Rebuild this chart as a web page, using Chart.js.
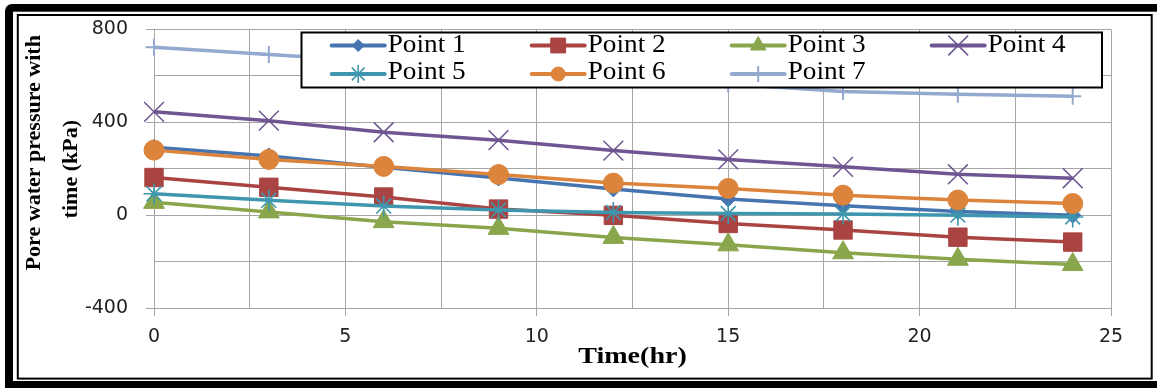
<!DOCTYPE html>
<html>
<head>
<meta charset="utf-8">
<script src="https://cdn.jsdelivr.net/npm/chart.js@4/dist/chart.umd.min.js"></script>
<style>
  html, body { margin: 0; padding: 0; background: #fff; }
  #wrap { position: relative; width: 1157px; height: 388px; }
</style>
</head>
<body>
<div id="wrap"><canvas id="chart"></canvas></div>
<script>
// Measured pore water pressure (kPa) at each monitoring point over time (hr)
const hours  = [0, 3, 6, 9, 12, 15, 18, 21, 24];
const point1 = [292, 255, 206, 160, 113, 70, 40, 16, 0];
const point2 = [162, 120, 78, 26, -1, -36, -64, -95, -116];
const point3 = [55, 14, -28, -57, -96, -128, -162, -190, -213];
const point4 = [445, 407, 357, 323, 278, 240, 208, 176, 159];
const point5 = [92, 64, 39, 22, 11, 7, 5, 0, -8];
const point6 = [280, 240, 210, 175, 138, 115, 86, 65, 50];
const point7 = [723, 692, 662, 630, 598, 565, 533, 521, 512];

const seriesNames = ['Point 1', 'Point 2', 'Point 3', 'Point 4', 'Point 5', 'Point 6', 'Point 7'];
const seriesValues = [point1, point2, point3, point4, point5, point6, point7];

const xTickLabels = [0, 5, 10, 15, 20, 25];
const yTickLabels = [800, 400, 0, -400];

const yTitleLines = ['Pore water pressure with', 'time (kPa)'];
const xTitle = 'Time(hr)';

// Series appearance (colour, marker shape, marker size in plot and in legend)
const seriesStyles = [
  { color: '#4674b0', shape: 'rectRot',  r: 8,    bw: 1,   lr: 6 },
  { color: '#a94442', shape: 'rect',     r: 13,   bw: 1,   lr: 10.5 },
  { color: '#8aa64c', shape: 'triangle', r: 12,   bw: 1,   lr: 9 },
  { color: '#6f5592', shape: 'crossRot', r: 14,   bw: 1.5, lr: 14 },
  { color: '#3e97ae', shape: 'star',     r: 10.5, bw: 1.6, lr: 9 },
  { color: '#dc843c', shape: 'circle',   r: 10,   bw: 1,   lr: 7 },
  { color: '#93a9cf', shape: 'cross',    r: 8.5,  bw: 2,   lr: 8 }
];

const GRID = '#a6a6a6';

const datasets = seriesNames.map((name, i) => {
  const st = seriesStyles[i];
  return {
    label: name,
    data: hours.map((h, k) => ({ x: h, y: seriesValues[i][k] })),
    borderColor: st.color,
    backgroundColor: st.color,
    borderWidth: 3.5,
    pointStyle: st.shape,
    pointRadius: st.r,
    pointHoverRadius: st.r,
    pointBorderWidth: st.bw,
    pointBackgroundColor: st.color,
    pointBorderColor: st.color,
    tension: 0,
    clip: false,
    order: seriesNames.length - 1 - i
  };
});

// Double frame around the figure
const framePlugin = {
  id: 'frame',
  beforeDraw(chart) {
    const ctx = chart.ctx;
    const W = chart.width, H = chart.height;
    ctx.save();
    ctx.fillStyle = '#fff';
    ctx.fillRect(0, 0, W, H);
    ctx.fillStyle = '#000';
    ctx.beginPath();
    ctx.roundRect(5, 4, W + 20, H + 20, 7);
    ctx.fill();
    ctx.fillStyle = '#fff';
    ctx.fillRect(13, 11.7, W, 369.3);
    ctx.strokeStyle = '#000';
    ctx.lineWidth = 2;
    ctx.strokeRect(17.8, 15, 1151.7 - 17.8, 378.6 - 15);
    ctx.restore();
  }
};

// Boxed legend laid over the top of the plot area
const legendPlugin = {
  id: 'boxLegend',
  afterDatasetsDraw(chart) {
    const ctx = chart.ctx;
    ctx.save();
    ctx.fillStyle = '#fff';
    ctx.fillRect(301.5, 32.5, 800.5, 55);
    ctx.strokeStyle = '#000';
    ctx.lineWidth = 2;
    ctx.strokeRect(301.5, 32.5, 800.5, 55);

    const rowsY = [45.5, 74];
    const textY = [45, 72.8];
    seriesNames.forEach((name, i) => {
      const st = seriesStyles[i];
      const row = i < 4 ? 0 : 1;
      const col = i < 4 ? i : i - 4;
      const x0 = 331.7 + col * 200;
      const y = rowsY[row];
      ctx.strokeStyle = st.color;
      ctx.lineWidth = 4;
      ctx.lineCap = 'round';
      ctx.beginPath();
      ctx.moveTo(x0, y);
      ctx.lineTo(x0 + 53, y);
      ctx.stroke();
      ctx.lineCap = 'butt';
      ctx.fillStyle = st.color;
      ctx.strokeStyle = st.color;
      ctx.lineWidth = st.bw;
      Chart.helpers.drawPoint(ctx, { pointStyle: st.shape, radius: st.lr, borderWidth: st.bw, rotation: 0 }, x0 + 26.5, y);

      ctx.fillStyle = '#000';
      ctx.font = '25px "Liberation Serif", "Times New Roman", serif';
      ctx.textAlign = 'left';
      ctx.textBaseline = 'middle';
      ctx.save();
      ctx.translate(x0 + 56, textY[row]);
      ctx.scale(1.09, 1);
      ctx.fillText(name, 0, 0);
      ctx.restore();
    });
    ctx.restore();
  }
};

// Axis titles
const titlePlugin = {
  id: 'axisTitles',
  afterDraw(chart) {
    const ctx = chart.ctx;
    ctx.save();
    ctx.fillStyle = '#000';
    ctx.font = 'bold 22px "Liberation Serif", "Times New Roman", serif';
    ctx.textAlign = 'center';
    ctx.textBaseline = 'alphabetic';
    const ya = chart.scales.y;
    const midY = (ya.top + ya.bottom) / 2;
    ctx.save();
    ctx.translate(40, midY - 16);
    ctx.rotate(-Math.PI / 2);
    ctx.fillText(yTitleLines[0], 0, 0);
    ctx.restore();
    ctx.save();
    ctx.translate(77, midY + 0.5);
    ctx.rotate(-Math.PI / 2);
    ctx.fillText(yTitleLines[1], 0, 0);
    ctx.restore();

    const xa = chart.scales.x;
    ctx.font = 'bold 23px "Liberation Serif", "Times New Roman", serif';
    ctx.save();
    ctx.translate((xa.left + xa.right) / 2, 363.3);
    ctx.scale(1.22, 1);
    ctx.fillText(xTitle, 0, 0);
    ctx.restore();
    ctx.restore();
  }
};

const tickFont = { family: '"DejaVu Sans", Verdana, sans-serif', size: 19 };

new Chart(document.getElementById('chart'), {
  type: 'line',
  data: { datasets },
  options: {
    responsive: true,
    maintainAspectRatio: false,
    animation: false,
    devicePixelRatio: 1,
    layout: { padding: { top: 24, right: 46, bottom: 0, left: 0 } },
    plugins: {
      legend: { display: false },
      tooltip: { enabled: false },
      title: { display: false }
    },
    scales: {
      x: {
        type: 'linear',
        min: 0,
        max: 25,
        afterFit(scale) { scale.height = 80; },
        ticks: {
          stepSize: 2.5,
          autoSkip: false,
          maxRotation: 0,
          minRotation: 0,
          padding: 10,
          color: '#222',
          font: tickFont,
          callback: v => xTickLabels.includes(v) ? String(v) : ''
        },
        grid: {
          color: GRID,
          lineWidth: 1,
          tickLength: 8,
          tickColor: c => (c.tick && xTickLabels.includes(c.tick.value)) ? GRID : 'rgba(0,0,0,0)'
        },
        border: { color: GRID, width: 1 }
      },
      y: {
        min: -400,
        max: 800,
        afterFit(scale) { scale.width = 154; },
        ticks: {
          stepSize: 200,
          autoSkip: false,
          padding: 18,
          color: '#222',
          font: tickFont,
          callback: v => yTickLabels.includes(v) ? String(v) : ''
        },
        grid: {
          color: GRID,
          lineWidth: 1,
          tickLength: 8,
          tickColor: c => (c.tick && yTickLabels.includes(c.tick.value)) ? GRID : 'rgba(0,0,0,0)'
        },
        border: { color: GRID, width: 1 }
      }
    }
  },
  plugins: [framePlugin, legendPlugin, titlePlugin]
});
</script>
</body>
</html>
